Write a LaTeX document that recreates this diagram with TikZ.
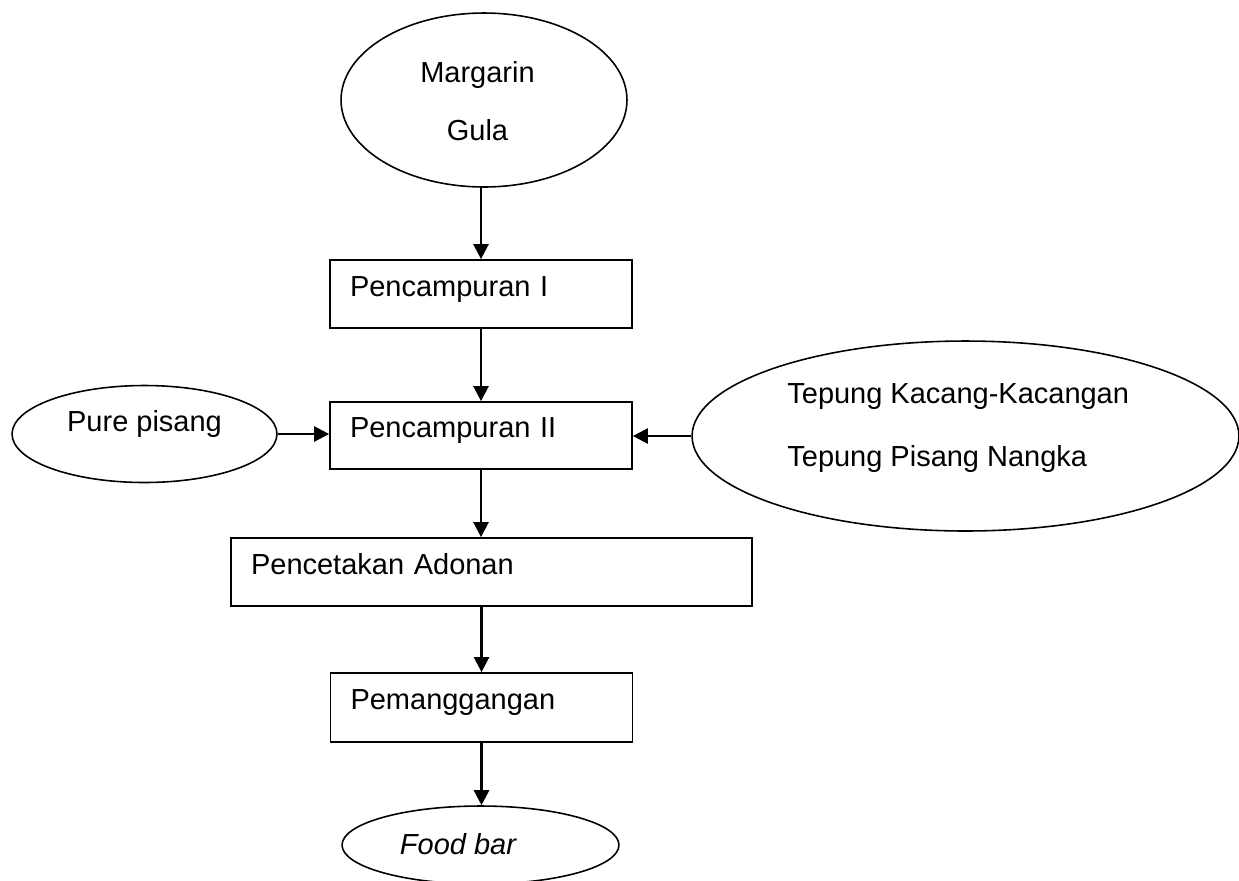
\documentclass[tikz,border=0pt]{standalone}
\usepackage{fontspec}
\setmainfont{Liberation Sans}
\usetikzlibrary{shapes.geometric,arrows.meta}

\tikzset{
  kotak/.style={draw,line width=1pt,rectangle,inner xsep=0.4cm,inner ysep=0pt,
    align=left,text depth=8.6pt},
  bulat/.style={draw,line width=0.9pt,ellipse,inner sep=0pt},
  teks/.style={inner sep=0pt},
  panah/.style={line width=1.4pt,-{Triangle[length=3mm,width=3mm]}}
}

\begin{document}
\begin{tikzpicture}[x=0.02cm,y=-0.02cm,
    every node/.style={font=\fontsize{16.5pt}{20pt}\selectfont}]
        \useasboundingbox (0,0) rectangle (1239,880);
        % bahan masuk
        \node[bulat,minimum width=5.72cm,minimum height=3.48cm] (bahan) at (484,100) {};
        \node[teks,align=center] (bahantxt) at (477.5,101) {Margarin\\[13.4pt]Gula};
        \node[bulat,minimum width=5.3cm,minimum height=1.94cm] (pure) at (144.5,434) {};
        \node[teks] (puretxt) at (144.5,423.5) {Pure pisang};
        \node[bulat,minimum width=10.94cm,minimum height=3.8cm] (tepung) at (965.5,436) {};
        \node[teks,anchor=west,align=left] (tepungtxt) at (787,428) {Tepung Kacang-Kacangan\\[15.7pt]Tepung Pisang Nangka};
        % proses
        \node[kotak,minimum height=1.36cm,text width=5.24cm] (campur1) at (481,294) {Pencampuran I};
        \node[kotak,minimum height=1.34cm,text width=5.24cm] (campur2) at (481,435.5) {Pencampuran II};
        \node[kotak,minimum height=1.36cm,text width=9.62cm] (cetak) at (491.5,572) {Pencetakan Adonan};
        \node[kotak,minimum height=1.38cm,text width=5.24cm] (panggang) at (481.5,707.5) {Pemanggangan};
        % hasil
        \node[bulat,minimum width=5.54cm,minimum height=1.56cm] (foodbar) at (480.5,845) {};
        \node[teks] (foodtxt) at (458,844.5) {\itshape Food bar};
        % alur
        \draw[panah] (campur1.north |- bahan.south) -- (campur1.north);
        \draw[panah] (campur1) -- (campur2);
        \draw[panah] (pure.east) -- (pure.east -| campur2.west);
        \draw[panah] (tepung.west) -- (tepung.west -| campur2.east);
        \draw[panah] (campur2.south) -- (campur2.south |- cetak.north);
        \draw[panah] (cetak.south -| panggang.north) -- (panggang.north);
        \draw[panah] (panggang.south) -- (panggang.south |- foodbar.north);
    \end{tikzpicture}
\end{document}
